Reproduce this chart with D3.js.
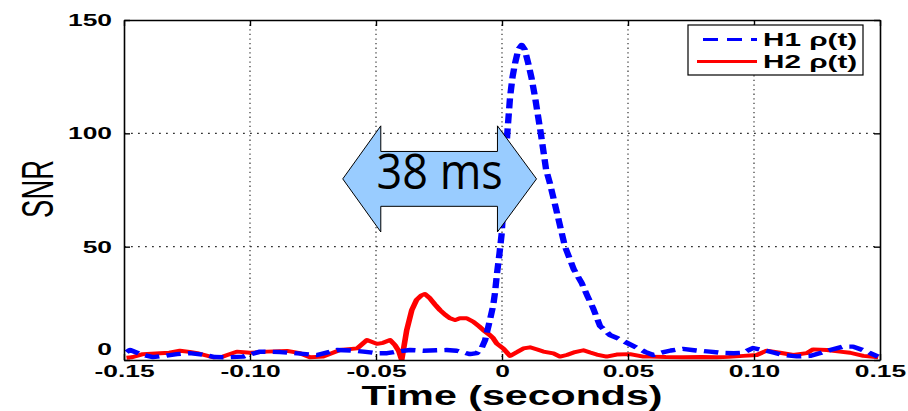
<!DOCTYPE html>
<html>
<head>
<meta charset="utf-8">
<script src="https://cdn.jsdelivr.net/npm/d3@7"></script>
<style>
  html, body { margin: 0; padding: 0; background: #fff; }
  svg { display: block; }
</style>
</head>
<body>
<script>
// ---- data -------------------------------------------------------------
// H1 matched-filter SNR time series (seconds, SNR)
const h1Time = [-0.1490, -0.1476, -0.1425, -0.1385, -0.1340, -0.1290, -0.1240, -0.1190, -0.1140, -0.1090,
  -0.1028, -0.0960, -0.0880, -0.0800, -0.0734, -0.0655, -0.0600, -0.0550, -0.0496, -0.0456,
  -0.0410, -0.0365, -0.0313, -0.0260, -0.0220, -0.0180, -0.0127, -0.0100, -0.0080, -0.0067,
  -0.0048, -0.0035, -0.0028, -0.0020, -0.0010, -0.0001, 0.0010, 0.0021, 0.0032, 0.0042,
  0.0052, 0.0065, 0.0078, 0.0090, 0.0104, 0.0118, 0.0131, 0.0154, 0.0175, 0.0190,
  0.0218, 0.0250, 0.0285, 0.0316, 0.0340, 0.0361, 0.0389, 0.0429, 0.0460, 0.0488,
  0.0536, 0.0570, 0.0600, 0.0627, 0.0670, 0.0718, 0.0770, 0.0825, 0.0877, 0.0920,
  0.0956, 0.0996, 0.1036, 0.1080, 0.1115, 0.1170, 0.1222, 0.1260, 0.1302, 0.1353,
  0.1393, 0.1448, 0.1492];
const h1Snr = [3.5, 4.4, 2.2, 1.3, 1.8, 2.6, 3.0, 2.4, 1.3, 1.2,
  1.5, 3.7, 3.5, 2.8, 2.2, 4.4, 4.2, 3.7, 3.0, 3.0,
  3.8, 4.4, 4.1, 4.3, 4.4, 4.1, 2.6, 3.0, 5.5, 8.8,
  17.6, 24, 29.5, 38, 47, 56, 78, 100, 116, 125,
  131, 137, 139, 137, 131, 124, 116, 100, 84, 78,
  65, 50, 40, 34, 28, 23, 15, 11, 9.5, 8.0,
  5.3, 3.5, 2.2, 3.1, 4.2, 4.9, 4.2, 3.7, 3.1, 3.0,
  3.2, 5.3, 4.4, 3.2, 2.2, 1.6, 1.8, 3.0, 4.4, 5.9,
  5.9, 3.7, 1.5];

// H2 matched-filter SNR time series (seconds, SNR)
const h2Time = [-0.1490, -0.1468, -0.1425, -0.1357, -0.1320, -0.1278, -0.1240, -0.1210, -0.1147, -0.1107,
  -0.1052, -0.1000, -0.0933, -0.0853, -0.0802, -0.0762, -0.0710, -0.0643, -0.0575, -0.0536,
  -0.0496, -0.0472, -0.0444, -0.0425, -0.0410, -0.0398, -0.0378, -0.0358, -0.0339, -0.0320,
  -0.0306, -0.0286, -0.0266, -0.0246, -0.0226, -0.0206, -0.0186, -0.0167, -0.0140, -0.0114,
  -0.0090, -0.0074, -0.0048, -0.0035, -0.0021, 0.0005, 0.0032, 0.0060, 0.0085, 0.0111,
  0.0140, 0.0164, 0.0204, 0.0230, 0.0257, 0.0290, 0.0323, 0.0350, 0.0376, 0.0415,
  0.0455, 0.0508, 0.0561, 0.0587, 0.0650, 0.0720, 0.0790, 0.0852, 0.0900, 0.0958,
  0.1011, 0.1050, 0.1103, 0.1156, 0.1209, 0.1235, 0.1289, 0.1341, 0.1381, 0.1434,
  0.1493];
const h2Snr = [1.0, 1.2, 2.6, 3.0, 3.2, 4.1, 3.6, 3.0, 1.2, 1.5,
  3.7, 3.2, 3.7, 4.0, 3.0, 1.2, 1.5, 4.4, 5.1, 8.8,
  7.1, 7.6, 8.8, 6.6, 4.0, 0.0, 13.2, 22, 26.5, 28.5,
  29.1, 27.2, 24.5, 22, 20, 18.4, 17.6, 18.4, 18.4, 16.9,
  14.8, 13.2, 11, 9.6, 7.3, 5.1, 1.8, 3.5, 5.1, 5.6,
  4.6, 3.7, 2.9, 1.5, 2.2, 3.5, 4.3, 3.3, 2.4, 1.5,
  2.4, 2.6, 1.5, 1.5, 1.3, 1.2, 1.3, 1.2, 1.4, 1.8,
  2.2, 4.1, 3.2, 2.2, 3.0, 4.7, 4.4, 3.7, 3.2, 1.8,
  1.2];

const xTicks = [-0.15, -0.10, -0.05, 0, 0.05, 0.10, 0.15];
const xTickLabels = ["-0.15", "-0.10", "-0.05", "0", "0.05", "0.10", "0.15"];
const yTicks = [0, 50, 100, 150];
const seriesNames = ["H1 \u03C1(t)", "H2 \u03C1(t)"];
const xTitle = "Time (seconds)";
const yTitle = "SNR";
const delayLabel = "38 ms";

// ---- layout -----------------------------------------------------------
const W = 908, H = 411;
const plot = { left: 124, right: 880, top: 20, bottom: 360 };
const stretch = 1.45;          // wide horizontal rendering of strokes and glyphs
const blue = "#0000ff", red = "#ff0000";
const sansFont = "'Liberation Sans', Arial, Helvetica, sans-serif";

const x = d3.scaleLinear().domain([-0.15, 0.15]).range([plot.left, plot.right]);
const y = d3.scaleLinear().domain([0, 150]).range([plot.bottom, plot.top]);
// x scale in the pre-stretch coordinate frame used for the curves
const xs = x.copy().range(x.range().map(v => v / stretch));

const svg = d3.select("body").append("svg")
  .attr("width", W).attr("height", H)
  .attr("viewBox", `0 0 ${W} ${H}`)
  .style("font-family", sansFont);

svg.append("defs").append("clipPath").attr("id", "plotClip")
  .append("rect")
  .attr("x", plot.left).attr("y", plot.top)
  .attr("width", plot.right - plot.left).attr("height", plot.bottom - plot.top);

// ---- grid -------------------------------------------------------------
const grid = svg.append("g").attr("class", "grid");
grid.selectAll("line.vg").data(xTicks.filter(t => t > -0.15 && t < 0.15))
  .join("line").attr("class", "vg")
  .attr("x1", d => x(d)).attr("x2", d => x(d))
  .attr("y1", plot.top).attr("y2", plot.bottom)
  .attr("stroke", "#333").attr("stroke-width", 1.2)
  .attr("stroke-dasharray", "1.3,3.3");
grid.selectAll("line.hg").data(yTicks.filter(v => v > 0 && v < 150))
  .join("line").attr("class", "hg")
  .attr("x1", plot.left).attr("x2", plot.right)
  .attr("y1", d => y(d)).attr("y2", d => y(d))
  .attr("stroke", "#333").attr("stroke-width", 1.2)
  .attr("stroke-dasharray", "1.8,5.2");

// ---- curves -----------------------------------------------------------
const curves = svg.append("g").attr("clip-path", "url(#plotClip)")
  .append("g").attr("transform", `scale(${stretch},1)`);
const line = d3.line().x(d => xs(d[0])).y(d => y(d[1]));

curves.append("path")
  .datum(d3.zip(h2Time, h2Snr))
  .attr("d", line)
  .attr("fill", "none").attr("stroke", red)
  .attr("stroke-width", 3.9).attr("stroke-linejoin", "round");

curves.append("path")
  .datum(d3.zip(h1Time, h1Snr))
  .attr("d", line)
  .attr("fill", "none").attr("stroke", blue)
  .attr("stroke-width", 4.4).attr("stroke-dasharray", "10,5")
  .attr("stroke-linejoin", "round");

// ---- axes -------------------------------------------------------------
const tickFont = 16, tickStretch = 1.65;

const axisBottomG = svg.append("g").attr("transform", `translate(0,${plot.bottom})`)
  .call(d3.axisBottom(x).tickValues(xTicks)
    .tickFormat((d, i) => xTickLabels[i]).tickSizeInner(-6).tickSizeOuter(0));
const axisTopG = svg.append("g").attr("transform", `translate(0,${plot.top})`)
  .call(d3.axisTop(x).tickValues(xTicks).tickFormat("").tickSizeInner(-6).tickSizeOuter(0));
const axisLeftG = svg.append("g").attr("transform", `translate(${plot.left},0)`)
  .call(d3.axisLeft(y).tickValues(yTicks).tickFormat(d3.format("d"))
    .tickSizeInner(-6).tickSizeOuter(0));
const axisRightG = svg.append("g").attr("transform", `translate(${plot.right},0)`)
  .call(d3.axisRight(y).tickValues(yTicks).tickFormat("").tickSizeInner(-6).tickSizeOuter(0));

[axisBottomG, axisTopG, axisLeftG, axisRightG].forEach(g => {
  g.attr("font-family", null).attr("font-size", null);
  g.select(".domain").attr("stroke", "#000").attr("stroke-width", 1.6);
  g.selectAll(".tick line").attr("stroke", "#000").attr("stroke-width", 1.4);
});

axisBottomG.selectAll(".tick text")
  .attr("y", 0).attr("dy", null)
  .attr("transform", `translate(0,16.5) scale(${tickStretch},1)`)
  .attr("font-size", tickFont).attr("font-weight", "bold").attr("fill", "#000");

axisLeftG.selectAll(".tick text")
  .attr("x", 0).attr("dy", null)
  .attr("transform", d => `translate(-12,${d === 0 ? -5.5 : 5.5}) scale(${tickStretch},1)`)
  .attr("font-size", tickFont).attr("font-weight", "bold").attr("fill", "#000");

// axis titles
svg.append("text")
  .attr("transform", `translate(${x(0) + 10},405) scale(1.47,1)`)
  .attr("text-anchor", "middle")
  .attr("font-size", 28).attr("font-weight", "bold")
  .text(xTitle);

svg.append("text")
  .attr("transform", `translate(37,${y(75.5)}) scale(1.6,1) rotate(-90)`)
  .attr("text-anchor", "middle").attr("dy", "0.36em")
  .attr("font-size", 27.5)
  .text(yTitle);

// ---- legend -----------------------------------------------------------
const legend = svg.append("g").attr("class", "legend");
legend.append("rect")
  .attr("x", 688).attr("y", 25).attr("width", 175).attr("height", 50)
  .attr("fill", "#fff").attr("stroke", "#000").attr("stroke-width", 1.2);

const legendRows = [
  { name: seriesNames[0], color: blue, dash: "15,9", x0: 703, cy: 39.5 },
  { name: seriesNames[1], color: red, dash: null, x0: 697, cy: 61.5 }
];
const rows = legend.selectAll("g.row").data(legendRows).join("g").attr("class", "row");
rows.append("line")
  .attr("x1", d => d.x0).attr("x2", 757)
  .attr("y1", d => d.cy).attr("y2", d => d.cy)
  .attr("stroke", d => d.color).attr("stroke-width", 3.2)
  .attr("stroke-dasharray", d => d.dash);
rows.append("text")
  .attr("transform", d => `translate(763,${d.cy + 6.5}) scale(1.65,1)`)
  .attr("font-size", 18).attr("font-weight", "bold")
  .text(d => d.name);

// ---- delay annotation: double-headed arrow between the two peaks -------
const arrow = {
  tipL: -0.0632, headL: -0.0481, headR: -0.0018, tipR: 0.0137,
  mid: 79.9, bodyHalf: 12.1, headHalf: 23.4
};
const arrowPts = [
  [x(arrow.tipL), y(arrow.mid)],
  [x(arrow.headL), y(arrow.mid + arrow.headHalf)],
  [x(arrow.headL), y(arrow.mid + arrow.bodyHalf)],
  [x(arrow.headR), y(arrow.mid + arrow.bodyHalf)],
  [x(arrow.headR), y(arrow.mid + arrow.headHalf)],
  [x(arrow.tipR), y(arrow.mid)],
  [x(arrow.headR), y(arrow.mid - arrow.headHalf)],
  [x(arrow.headR), y(arrow.mid - arrow.bodyHalf)],
  [x(arrow.headL), y(arrow.mid - arrow.bodyHalf)],
  [x(arrow.headL), y(arrow.mid - arrow.headHalf)]
];
svg.append("path")
  .attr("d", d3.line()(arrowPts) + "Z")
  .attr("fill", "#99ccff").attr("stroke", "#000").attr("stroke-width", 1)
  .attr("stroke-linejoin", "miter");

svg.append("text")
  .attr("transform", `translate(${(x(arrow.tipL) + x(arrow.tipR)) / 2},189) scale(0.9,1)`)
  .attr("text-anchor", "middle")
  .style("font-family", "'Open Sans', 'Noto Sans', sans-serif")
  .attr("font-size", 50)
  .attr("fill", "#000")
  .text(delayLabel);
</script>
</body>
</html>
